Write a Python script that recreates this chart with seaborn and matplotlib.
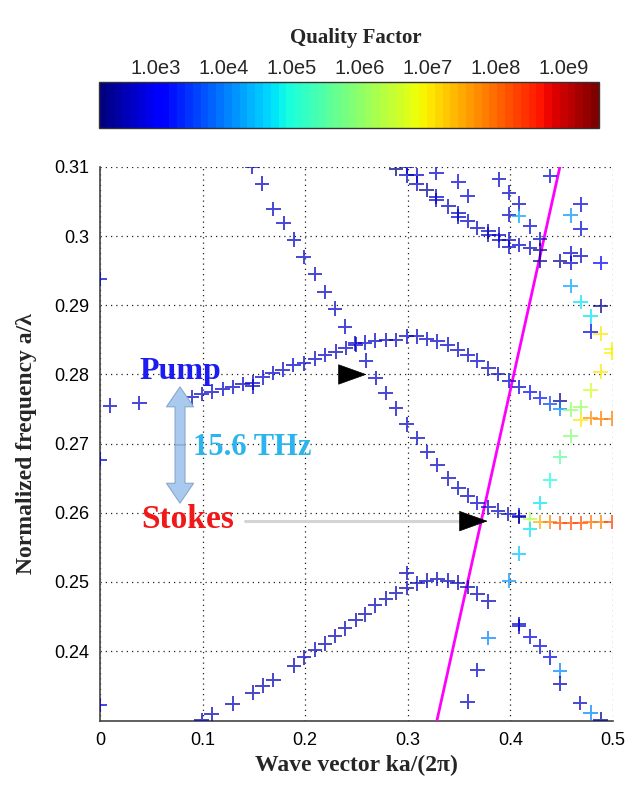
import numpy as np
import pandas as pd
import matplotlib
matplotlib.use("Agg")
import matplotlib.pyplot as plt
import seaborn as sns
from matplotlib.colors import Normalize
from matplotlib.cm import ScalarMappable

# ---------------- data ----------------
# each band: wave vector k (ka/2pi), normalized frequency f (a/lambda), log10(Q)
edge_k = [0.0, 0.0, 0.0, 0.0098, 0.0383]
edge_f = [0.2938, 0.2677, 0.2322, 0.2755, 0.2759]
edge_q = [2.7, 2.7, 2.7, 2.7, 2.7]

pump_k = [0.0893, 0.099, 0.1088, 0.1196, 0.1293, 0.139, 0.1488, 0.1488, 0.1585, 0.1683,
          0.178, 0.1884, 0.1988, 0.2096, 0.2193, 0.2297, 0.2394, 0.2492, 0.2583, 0.268,
          0.2788, 0.2885, 0.2989, 0.3087, 0.3184, 0.3288, 0.3389, 0.3486, 0.3584, 0.368,
          0.3785, 0.3882, 0.3986, 0.4084, 0.4191, 0.4288, 0.4386, 0.4483, 0.4483, 0.4587,
          0.4685, 0.4685, 0.4782, 0.488, 0.4987]
pump_f = [0.2767, 0.2772, 0.2775, 0.2779, 0.2782, 0.2786, 0.2788, 0.2783, 0.2796, 0.2802,
          0.2807, 0.2814, 0.2816, 0.2823, 0.2828, 0.2833, 0.2838, 0.2843, 0.2846, 0.2849,
          0.2850, 0.2850, 0.2855, 0.2855, 0.2851, 0.2848, 0.2843, 0.2836, 0.2828, 0.2820,
          0.2809, 0.2801, 0.2791, 0.2782, 0.2774, 0.2766, 0.2758, 0.2762, 0.2750, 0.2749,
          0.2753, 0.2734, 0.2737, 0.2736, 0.2736]
pump_q = [2.7] * 34 + [3.0, 3.2, 3.6, 2.3, 4.0, 6.0, 6.1, 7.0, 7.7, 7.8, 7.8]

stokes_k = [0.1485, 0.158, 0.169, 0.179, 0.189, 0.1985, 0.2096, 0.219, 0.229, 0.2388,
            0.2485, 0.2593, 0.2687, 0.2784, 0.2885, 0.2989, 0.3093, 0.319, 0.3288, 0.3395,
            0.3493, 0.3584, 0.368, 0.3785, 0.3882, 0.398, 0.4084, 0.4084, 0.4191, 0.4288,
            0.4386, 0.4483, 0.4587, 0.4685, 0.4782, 0.488, 0.4987]
stokes_f = [0.3100, 0.3076, 0.3039, 0.3019, 0.2995, 0.2970, 0.2945, 0.2919, 0.2895, 0.2869,
            0.2845, 0.2820, 0.2795, 0.2773, 0.2751, 0.2728, 0.2708, 0.2688, 0.2669, 0.2650,
            0.2636, 0.2625, 0.2614, 0.2608, 0.2603, 0.2598, 0.2596, 0.2594, 0.2591, 0.2587,
            0.2587, 0.2585, 0.2585, 0.2585, 0.2587, 0.2587, 0.2587]
stokes_q = [2.7] * 26 + [3.0, 2.3, 6.2, 7.5, 7.9, 8.2, 8.2, 8.2, 8.0, 7.9, 8.3]

hump_k = [0.099, 0.1088, 0.1293, 0.1488, 0.1585, 0.169, 0.189, 0.1988, 0.2096, 0.2193,
          0.229, 0.2388, 0.2492, 0.2583, 0.268, 0.2788, 0.2885, 0.2989, 0.2989, 0.3093,
          0.3184, 0.3288, 0.3389, 0.3486, 0.3584, 0.368, 0.3785]
hump_f = [0.2300, 0.2309, 0.2324, 0.2340, 0.2350, 0.2358, 0.2379, 0.2391, 0.2402, 0.2411,
          0.2422, 0.2433, 0.2445, 0.2453, 0.2466, 0.2476, 0.2484, 0.2491, 0.2513, 0.2498,
          0.2502, 0.2504, 0.2502, 0.2499, 0.2493, 0.2483, 0.2472]
hump_q = [2.6] * 27

low_k = [0.4084, 0.4084, 0.4191, 0.4288, 0.4386, 0.4483, 0.4483, 0.4678, 0.4782, 0.488,
         0.3785, 0.368, 0.3584]
low_f = [0.2439, 0.2436, 0.2421, 0.2407, 0.2391, 0.2372, 0.2353, 0.2325, 0.2311, 0.2301,
         0.2419, 0.2373, 0.2327]
low_q = [2.7, 2.7, 2.8, 2.8, 2.8, 4.0, 2.6, 2.7, 4.0, 2.3, 4.0, 2.7, 2.7]

leaky_k = [0.3986, 0.4084, 0.4191, 0.4288, 0.4386, 0.4483, 0.4587, 0.4782, 0.488, 0.4987,
           0.4987, 0.488]
leaky_f = [0.2502, 0.2541, 0.2576, 0.2614, 0.2647, 0.2681, 0.2711, 0.2777, 0.2804, 0.2837,
           0.2831, 0.2859]
leaky_q = [4.2, 4.5, 4.8, 4.8, 5.0, 5.5, 5.9, 6.6, 7.0, 6.9, 6.9, 7.0]

upper_k = [0.2885, 0.2989, 0.2989, 0.3086, 0.3086, 0.3184, 0.328, 0.328, 0.3395, 0.3493,
           0.3493, 0.3584, 0.368, 0.3785, 0.3785, 0.3889, 0.3889, 0.3986, 0.3986, 0.4084,
           0.4191, 0.4288, 0.4288, 0.4288]
upper_f = [0.3097, 0.3100, 0.3088, 0.3088, 0.3076, 0.3067, 0.3057, 0.3052, 0.3043, 0.3033,
           0.3028, 0.3022, 0.3012, 0.3007, 0.3002, 0.3002, 0.2994, 0.2995, 0.2984, 0.2987,
           0.2983, 0.2996, 0.2980, 0.2964]
upper_q = [2.2, 2.7, 2.7, 2.7, 2.7, 2.3, 2.7, 2.7, 2.7, 2.7,
           2.7, 2.7, 2.7, 2.7, 2.7, 2.7, 2.7, 2.7, 2.7, 2.7,
           2.7, 2.7, 2.3, 2.3]

scatter_k = [0.328, 0.3493, 0.3584, 0.3889, 0.3986, 0.3986, 0.4084, 0.4084, 0.4191, 0.4386,
             0.4685, 0.4587, 0.4685, 0.4483, 0.4587, 0.4587, 0.4685, 0.488, 0.4587, 0.4685,
             0.488, 0.4782, 0.4782]
scatter_f = [0.3092, 0.3079, 0.3058, 0.3082, 0.3063, 0.3031, 0.3047, 0.3029, 0.3014, 0.3087,
             0.3046, 0.3030, 0.3011, 0.2964, 0.2975, 0.2961, 0.2972, 0.2961, 0.2928, 0.2905,
             0.2899, 0.2884, 0.2862]
scatter_q = [2.7, 2.8, 2.8, 2.7, 2.7, 2.7, 2.7, 4.3, 2.8, 2.8,
             2.8, 4.2, 2.8, 2.3, 2.7, 2.7, 2.7, 3.0, 4.3, 4.7,
             2.3, 4.7, 2.8]

light_k = [0.3285, 0.4483]
light_f = [0.2300, 0.3100]

q_range = (2.16, 9.52)
cbar_ticks = [3, 4, 5, 6, 7, 8, 9]
cbar_labels = ["1.0e3", "1.0e4", "1.0e5", "1.0e6", "1.0e7", "1.0e8", "1.0e9"]
x_ticks = [0, 0.1, 0.2, 0.3, 0.4, 0.5]
x_labels = ["0", "0.1", "0.2", "0.3", "0.4", "0.5"]
y_ticks = [0.24, 0.25, 0.26, 0.27, 0.28, 0.29, 0.30, 0.31]
y_labels = ["0.24", "0.25", "0.26", "0.27", "0.28", "0.29", "0.3", "0.31"]

pump_arrow = {"tip": (0.260, 0.2800), "tail": (0.234, 0.2800)}
stokes_arrow = {"tip": (0.378, 0.2588), "tail": (0.352, 0.2588), "line_start": 0.141}
gap_arrow = {"x": 0.078, "top": 0.2782, "bottom": 0.2614}

# ---------------- build table ----------------
frames = []
for name, k, f, q in [("edge", edge_k, edge_f, edge_q), ("pump", pump_k, pump_f, pump_q),
                      ("stokes", stokes_k, stokes_f, stokes_q), ("hump", hump_k, hump_f, hump_q),
                      ("low", low_k, low_f, low_q), ("leaky", leaky_k, leaky_f, leaky_q),
                      ("upper", upper_k, upper_f, upper_q), ("scatter", scatter_k, scatter_f, scatter_q)]:
    frames.append(pd.DataFrame({"k": k, "f": f, "logQ": q, "band": name}))
df = pd.concat(frames, ignore_index=True)

# ---------------- figure ----------------
sns.set_style("white")
plt.rcParams["font.family"] = ["Liberation Sans", "DejaVu Sans"]
serif = ["Liberation Serif", "DejaVu Serif"]

cmap = plt.get_cmap("jet", 64)
norm = Normalize(*q_range)

fig = plt.figure(figsize=(6.27, 7.91), dpi=100)
ax = fig.add_axes([0.1595, 0.0885, 0.818, 0.7004])
cax = fig.add_axes([0.158, 0.838, 0.797, 0.058])

ax.plot(light_k, light_f, color="#ff00ff", lw=2.0, zorder=3)

sns.scatterplot(data=df, x="k", y="f", hue="logQ", palette=cmap, hue_norm=norm,
                marker="+", s=110, linewidth=1.4, alpha=0.72, legend=False, ax=ax, zorder=4)

ax.set_xlim(0, 0.5)
ax.set_ylim(0.2299, 0.31)
ax.set_xticks(x_ticks)
ax.set_xticklabels(x_labels)
ax.set_yticks(y_ticks)
ax.set_yticklabels(y_labels)
ax.tick_params(direction="in", length=5, width=1, labelsize=13, colors="#333333",
               labelcolor="black", pad=8)
ax.grid(True, color="#222222", linestyle=(0, (1, 3.2)), linewidth=0.9)
for s in ["top", "right"]:
    ax.spines[s].set_visible(False)
for s in ["left", "bottom"]:
    ax.spines[s].set_color("#444444")
    ax.spines[s].set_linewidth(1.2)

ax.set_xlabel("Wave vector ka/(2\u03c0)", fontfamily=serif, fontweight="bold", fontsize=17, labelpad=4)
ax.set_ylabel("Normalized frequency a/\u03bb", fontfamily=serif, fontweight="bold", fontsize=17, labelpad=12)

# annotations
ax.text(0.078, 0.2805, "Pump", color="#1c1cf0", fontfamily=serif, fontweight="bold",
        fontsize=23, ha="center", va="center", zorder=5)
ax.text(0.0858, 0.2591, "Stokes", color="#f01818", fontfamily=serif, fontweight="bold",
        fontsize=24, ha="center", va="center", zorder=5)
ax.text(0.148, 0.2695, "15.6 THz", color="#2cb4ef", fontfamily=serif, fontweight="bold",
        fontsize=22, ha="center", va="center", zorder=5)

mid = (gap_arrow["top"] + gap_arrow["bottom"]) / 2
for end in (gap_arrow["top"], gap_arrow["bottom"]):
    ax.annotate("", xy=(gap_arrow["x"], end), xytext=(gap_arrow["x"], mid),
                arrowprops=dict(arrowstyle="simple,head_length=1.1,head_width=1.5,tail_width=0.55",
                                fc="#a9c9ef", ec="#88a8cc", lw=0.8, shrinkA=0, shrinkB=0,
                                mutation_scale=13), zorder=5)

ax.plot([stokes_arrow["line_start"], stokes_arrow["tail"][0]],
        [stokes_arrow["tip"][1], stokes_arrow["tip"][1]], color="#d4d4d4", lw=2.2, zorder=2)
for arr in (pump_arrow, stokes_arrow):
    ax.annotate("", xy=arr["tip"], xytext=arr["tail"],
                arrowprops=dict(arrowstyle="-|>,head_length=0.39,head_width=0.14",
                                fc="black", ec="black", lw=0.5, shrinkA=0, shrinkB=0,
                                mutation_scale=50), zorder=6)

# colorbar
sm = ScalarMappable(norm=norm, cmap=cmap)
cb = fig.colorbar(sm, cax=cax, orientation="horizontal", ticks=cbar_ticks)
cb.ax.xaxis.set_ticks_position("both")
cb.ax.xaxis.set_label_position("top")
cb.ax.tick_params(axis="x", direction="in", length=4, width=1, labeltop=True, labelbottom=False,
                  labelsize=14.5, pad=3)
cb.set_ticklabels(cbar_labels)
cb.outline.set_linewidth(1.0)
cb.outline.set_edgecolor("#333333")

fig.text(0.568, 0.952, "Quality Factor", fontfamily=serif, fontweight="bold", fontsize=15,
         ha="center", va="center")

fig.savefig("out.png", dpi=100)
